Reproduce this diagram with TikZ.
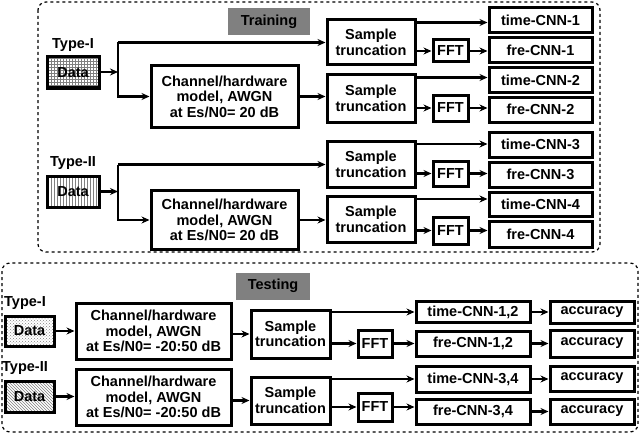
\documentclass[tikz,border=0pt]{standalone}
\usepackage{fontspec}
\setmainfont{Liberation Sans}
\usetikzlibrary{arrows.meta,patterns,calc}
\begin{document}
\begin{tikzpicture}[x=1pt,y=-1pt,
  font=\fontsize{14.5}{15.5}\selectfont\bfseries,
  box/.style={draw,line width=3pt,align=center,inner sep=0pt,fill=white},
  frame/.style={draw,dashed,line width=1.2pt,rounded corners=8pt},
  tag/.style={fill=gray,minimum width=#1,minimum height=27,inner sep=0pt},
  lbl/.style={inner sep=0pt},
  arr/.style={line width=2.3pt,-{Stealth[length=8pt,width=7pt]}},
  ln/.style={line width=2.3pt}]
\useasboundingbox (0,0) rectangle (640,436);

% ---------------- Training ----------------
\draw[frame] (38,2) rectangle (600,252);
\node[tag=82] (train) at (269,21.5) {Training};

% Type-I
\node[lbl] (typeA) at (73,45) {Type-I};
\node[box,minimum width=52,minimum height=31,pattern=grid,pattern color=gray] (dA) at (73,72.5) {};
\node[lbl] at (dA) {Data};
\coordinate (bA) at (118,72);
\node[box,minimum width=147,minimum height=61] (chA) at (224.5,96.5) {Channel/hardware\\model, AWGN\\at Es/N0= 20 dB};
\node[box,minimum width=88,minimum height=45] (s1) at (371,42.5) {Sample\\truncation};
\node[box,minimum width=88,minimum height=47] (s2) at (371,98.5) {Sample\\truncation};
\draw[arr] (dA.east |- bA) -- (bA);
\draw[arr] (bA |- s1) -- (s1.west);
\draw[arr] (bA) -- (bA |- chA) -- (chA.west);
\draw[ln] (bA) -- (bA |- s1);
\draw[arr] (chA.east) -- (s2.west |- chA);

% Type-II
\node[lbl] (typeB) at (73,163) {Type-II};
\node[box,minimum width=52,minimum height=31,pattern=vertical lines,pattern color=gray] (dB) at (73,191.5) {};
\node[lbl] at (dB) {Data};
\coordinate (bB) at (118,191.5);
\node[box,minimum width=147,minimum height=59] (chB) at (224.5,220) {Channel/hardware\\model, AWGN\\at Es/N0= 20 dB};
\node[box,minimum width=88,minimum height=46] (s3) at (371,164.5) {Sample\\truncation};
\node[box,minimum width=88,minimum height=46] (s4) at (371,219.5) {Sample\\truncation};
\draw[arr] (dB.east |- bB) -- (bB);
\draw[arr] (bB |- s3) -- (s3.west);
\draw[arr] (bB) -- (bB |- chB) -- (chB.west);
\draw[ln] (bB) -- (bB |- s3);
\draw[arr] (chB.east) -- (s4.west |- chB);

% CNN branches
\node[box,minimum width=103,minimum height=25] (t1) at (540.5,20.5) {time-CNN-1};
\node[box,minimum width=103,minimum height=25] (f1) at (540.5,50.5) {fre-CNN-1};
\node[box,minimum width=35,minimum height=22] (F1) at (450.5,51) {FFT};
\node[box,minimum width=103,minimum height=24] (t2) at (540.5,80) {time-CNN-2};
\node[box,minimum width=103,minimum height=25] (f2) at (540.5,109.5) {fre-CNN-2};
\node[box,minimum width=35,minimum height=26] (F2) at (450.5,108) {FFT};
\node[box,minimum width=103,minimum height=25] (t3) at (540.5,144.5) {time-CNN-3};
\node[box,minimum width=103,minimum height=25] (f3) at (540.5,174.5) {fre-CNN-3};
\node[box,minimum width=35,minimum height=25] (F3) at (450.5,173.5) {FFT};
\node[box,minimum width=103,minimum height=24] (t4) at (540.5,204) {time-CNN-4};
\node[box,minimum width=103,minimum height=26] (f4) at (540.5,234) {fre-CNN-4};
\node[box,minimum width=35,minimum height=27] (F4) at (450.5,230.5) {FFT};
\foreach \s/\t/\F/\f in {s1/t1/F1/f1,s2/t2/F2/f2,s3/t3/F3/f3,s4/t4/F4/f4}{
  \draw[arr] ([yshift=-4pt]\s.north east) coordinate (a) -- (a -| \t.west);
  \draw[arr] (\s.east |- \F) -- (\F.west);
  \draw[arr] (\F.east) -- (\f.west |- \F);
}

% ---------------- Testing ----------------
\draw[frame] (2,263) rectangle (638,432);
\node[tag=74] (test) at (273,286) {Testing};

\node[lbl] (typeC) at (25,303) {Type-I};
\node[box,minimum width=49,minimum height=30,pattern=crosshatch dots,pattern color=gray] (dC) at (29.5,331) {};
\node[lbl] at (dC) {Data};
\node[box,minimum width=155,minimum height=56] (chC) at (153.5,331) {Channel/hardware\\model, AWGN\\at Es/N0= -20:50 dB};
\node[box,minimum width=79,minimum height=48] (s5) at (290.5,334) {Sample\\truncation};
\node[box,minimum width=34,minimum height=27] (F5) at (375,343.5) {FFT};
\node[box,minimum width=114,minimum height=21] (t5) at (473,312) {time-CNN-1,2};
\node[box,minimum width=114,minimum height=25] (f5) at (473,343.5) {fre-CNN-1,2};
\node[box,minimum width=84,minimum height=22] (a1) at (592,312) {accuracy};
\node[box,minimum width=84,minimum height=27] (a2) at (592,343.5) {accuracy};

\node[lbl] (typeD) at (25,368) {Type-II};
\node[box,minimum width=49,minimum height=31,pattern=north west lines,pattern color=gray] (dD) at (29.5,396.5) {};
\node[lbl] at (dD) {Data};
\node[box,minimum width=155,minimum height=56] (chD) at (153.5,397) {Channel/hardware\\model, AWGN\\at Es/N0= -20:50 dB};
\node[box,minimum width=79,minimum height=47] (s6) at (290.5,400.5) {Sample\\truncation};
\node[box,minimum width=34,minimum height=28] (F6) at (375,407) {FFT};
\node[box,minimum width=114,minimum height=26] (t6) at (473,379) {time-CNN-3,4};
\node[box,minimum width=114,minimum height=25] (f6) at (473,411.5) {fre-CNN-3,4};
\node[box,minimum width=84,minimum height=25] (a3) at (592,378.5) {accuracy};
\node[box,minimum width=84,minimum height=25] (a4) at (592,411.5) {accuracy};

\draw[arr] (dC.east) -- (chC.west |- dC);
\draw[arr] (chC.east |- s5) -- (s5.west);
\draw[arr] (dD.east) -- (chD.west |- dD);
\draw[arr] (chD.east |- s6) -- (s6.west);
\foreach \s/\t/\F/\f/\p/\q in {s5/t5/F5/f5/a1/a2,s6/t6/F6/f6/a3/a4}{
  \draw[arr] (\s.east |- \t) -- (\t.west);
  \draw[arr] (\s.east |- \F) -- (\F.west);
  \draw[arr] (\F.east) -- (\f.west |- \F);
  \draw[arr] (\t.east) -- (\p.west |- \t);
  \draw[arr] (\f.east) -- (\q.west |- \f);
}
\end{tikzpicture}
\end{document}
